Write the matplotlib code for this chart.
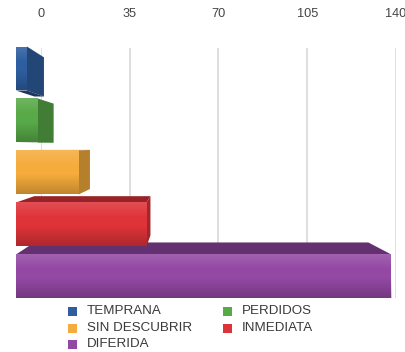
import numpy as np
import matplotlib
matplotlib.use("Agg")
import matplotlib.pyplot as plt
from matplotlib.patches import Polygon, Rectangle
from matplotlib.colors import to_rgb

# ---- data -------------------------------------------------------------
categories = ["TEMPRANA", "PERDIDOS", "SIN DESCUBRIR", "INMEDIATA", "DIFERIDA"]
values = [4, 8, 23, 48, 138]
colors = ["#2e5ea0", "#58a948", "#f5ac3c", "#de3339", "#9348a4"]
tick_values = [0, 35, 70, 105, 140]
tick_labels = ["0", "35", "70", "105", "140"]

W, H = 406, 352
plt.rcParams["font.family"] = ["Liberation Sans", "DejaVu Sans"]
fig = plt.figure(figsize=(W / 100, H / 100), dpi=100)


def px_rect(left, top, right, bottom):
    """Figure-fraction rectangle from pixel edges measured from the top-left."""
    return [left / W, 1 - bottom / H, (right - left) / W, (bottom - top) / H]


# ---- back wall: value grid and scale labels ----------------------------
back = fig.add_axes(px_rect(41, 48, 396, 298))
back.set_xlim(0, 140)
back.set_ylim(0, 1)
back.set_xticks(tick_values)
back.set_yticks([])
back.tick_params(axis="x", length=0, labelbottom=False)
back.grid(axis="x", color="#dcdcdc", linewidth=1.3)
for s in back.spines.values():
    s.set_visible(False)
back.patch.set_alpha(0)
for v, lab in zip(tick_values, tick_labels):
    back.text(v, 1 + 34 / 250, lab, transform=back.get_xaxis_transform(),
              ha="center", va="center", fontsize=9.2, color="#444444")

# ---- bars with simple perspective faces --------------------------------
front = fig.add_axes(px_rect(16, 40, 16 + 140 * 2.72, 300))
front.set_xlim(0, 140)
rows = np.arange(len(categories))
front.set_ylim(4.452, -0.548)
front.axis("off")
front.patch.set_alpha(0)

bar_h = 0.846
vp = np.array([182.0, H - 145.0])   # vanishing point, display pixels
k = 0.11                             # depth of the boxes toward the vanishing point


def shade(c, f):
    r, g, b = to_rgb(c)
    return (r * f, g * f, b * f)


to_disp = front.transData.transform
to_data = front.transData.inverted().transform

face_patches = []
for y, v, c in zip(rows, values, colors):
    FLt = to_disp((0, y - bar_h / 2))
    FRt = to_disp((v, y - bar_h / 2))
    FRb = to_disp((v, y + bar_h / 2))
    FLb = to_disp((0, y + bar_h / 2))
    back_pt = lambda p: p + k * (vp - p)
    BLt, BRt, BRb, BLb = map(back_pt, (FLt, FRt, FRb, FLb))
    if FRt[0] < vp[0]:
        face_patches.append(([FRt, BRt, BRb, FRb], shade(c, 0.74)))
    if FLt[1] < vp[1]:
        face_patches.append(([FLt, FRt, BRt, BLt], shade(c, 0.68)))
    if FLb[1] > vp[1]:
        face_patches.append(([FLb, FRb, BRb, BLb], shade(c, 0.6)))

for pts, col in face_patches:
    front.add_patch(Polygon(to_data(np.array(pts)), closed=True, facecolor=col,
                            edgecolor="none", clip_on=False))

bars = front.barh(rows, values, height=bar_h, left=0, color=colors,
                  edgecolor="none", zorder=3)

# soft vertical shading across each front face
n = 64
t = np.linspace(0, 1, n)[:, None]
light = np.clip(1 - t / 0.35, 0, 1) * 0.14
dark = np.clip((t - 0.55) / 0.45, 0, 1) * 0.22
overlay = np.zeros((n, 2, 4))
overlay[..., :3] = np.where(light > 0, 1.0, 0.0)[..., None] * np.ones((1, 2, 1))
overlay[..., 3] = (light + dark) * np.ones((1, 2))
for b, y, v in zip(bars, rows, values):
    b.set_clip_on(False)
    im = front.imshow(overlay, extent=(0, v, y + bar_h / 2, y - bar_h / 2),
                      aspect="auto", interpolation="bilinear", zorder=4)
    im.set_clip_path(b)
front.set_xlim(0, 140)
front.set_ylim(4.452, -0.548)

# ---- legend -------------------------------------------------------------
legend_slots = [(73, 311), (228, 311), (73, 328), (228, 328), (73, 344)]
for (lx, ly), name, c in zip(legend_slots, categories, colors):
    fig.patches.append(Rectangle(((lx - 4.5) / W, 1 - (ly + 4.5) / H), 9 / W, 9 / H,
                                 transform=fig.transFigure, facecolor=c,
                                 edgecolor="none"))
    fig.text((lx + 14) / W, 1 - ly / H, name, ha="left", va="center",
             fontsize=9.6, color="#3a3a3a")

fig.savefig("out.png", dpi=100)
